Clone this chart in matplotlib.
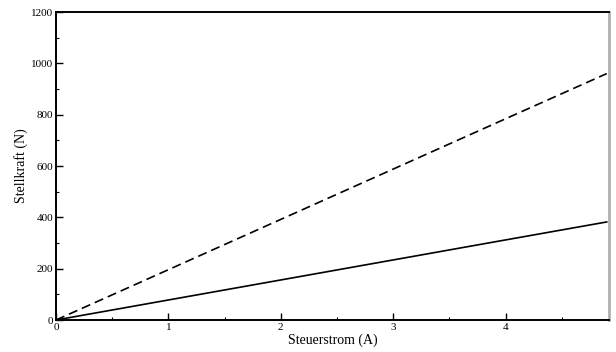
import matplotlib.pyplot as plt
from matplotlib.ticker import MultipleLocator

# Steuerstrom (A) und Stellkraft (N), linearer Verlauf
strom = [0.0, 1.0, 2.0, 3.0, 4.0, 4.9]
kraft_solid = [0, 78, 156, 234, 312, 382]
kraft_dashed = [0, 196, 392, 588, 784, 960]

plt.rcParams['font.family'] = ['Liberation Serif', 'DejaVu Serif']

fig = plt.figure(figsize=(6.16, 3.52), dpi=100)
ax = fig.add_axes([0.0909, 0.0909, 0.8977, 0.875])

ax.plot(strom, kraft_dashed, color="black", linestyle=(0, (5.5, 3)), linewidth=1.2)
ax.plot(strom, kraft_solid, color="black", linestyle="-", linewidth=1.2)

ax.set_xlim(0, 4.92)
ax.set_ylim(0, 1200)
ax.xaxis.set_major_locator(MultipleLocator(1))
ax.xaxis.set_minor_locator(MultipleLocator(0.5))
ax.yaxis.set_major_locator(MultipleLocator(200))
ax.yaxis.set_minor_locator(MultipleLocator(100))
ax.tick_params(which="major", direction="in", length=5, width=1, labelsize=8, pad=2)
ax.tick_params(which="minor", direction="in", length=2.5, width=0.8)

for side in ["left", "bottom", "top"]:
    ax.spines[side].set_linewidth(1.4)
ax.spines["right"].set_color("#b0b0b0")
ax.spines["right"].set_linewidth(2)

ax.set_xlabel("Steuerstrom (A)", fontsize=10, labelpad=1)
ax.set_ylabel("Stellkraft (N)", fontsize=10, labelpad=2)

plt.savefig("out.png", dpi=100)
